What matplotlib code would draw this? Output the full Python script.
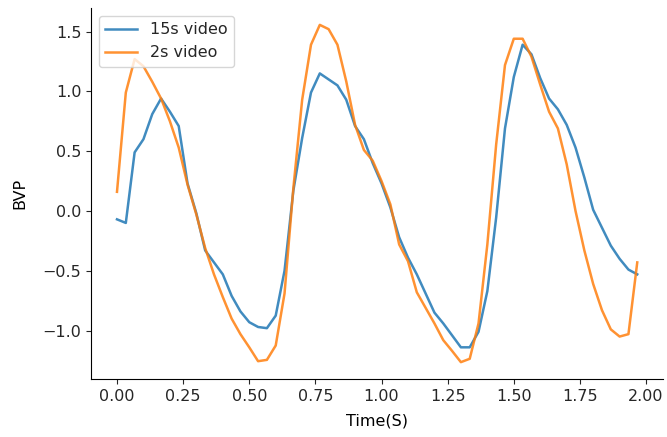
import numpy as np
import matplotlib
matplotlib.use("Agg")
import matplotlib.pyplot as plt

fps = 30
bvp_15s = [-0.07, -0.10, 0.49, 0.60, 0.81, 0.94, 0.83, 0.71, 0.23, -0.02,
           -0.33, -0.43, -0.53, -0.71, -0.84, -0.93, -0.97, -0.98, -0.875, -0.50,
           0.17, 0.61, 0.99, 1.15, 1.10, 1.05, 0.93, 0.71, 0.60, 0.40,
           0.23, 0.03, -0.22, -0.39, -0.53, -0.69, -0.85, -0.94, -1.04, -1.14,
           -1.14, -1.01, -0.67, -0.055, 0.69, 1.12, 1.39, 1.31, 1.11, 0.94,
           0.85, 0.72, 0.53, 0.28, 0.01, -0.14, -0.29, -0.40, -0.49, -0.53]
bvp_2s = [0.16, 0.99, 1.27, 1.21, 1.08, 0.94, 0.75, 0.53, 0.22, -0.03,
          -0.31, -0.53, -0.72, -0.90, -1.03, -1.14, -1.256, -1.245, -1.125, -0.69,
          0.19, 0.93, 1.39, 1.556, 1.52, 1.39, 1.083, 0.72, 0.51, 0.42,
          0.25, 0.056, -0.28, -0.42, -0.68, -0.81, -0.94, -1.08, -1.17, -1.264,
          -1.236, -0.94, -0.28, 0.556, 1.22, 1.44, 1.44, 1.29, 1.056, 0.83,
          0.69, 0.39, 0.0, -0.33, -0.61, -0.83, -0.99, -1.05, -1.03, -0.43]
labels = ["15s video", "2s video"]

t = np.arange(len(bvp_15s)) / fps

plt.rcParams['font.size'] = 11.5
plt.rcParams['text.color'] = '#262626'
plt.rcParams['xtick.color'] = '#262626'
plt.rcParams['ytick.color'] = '#262626'
fig = plt.figure(figsize=(6.67, 4.37), dpi=100)
ax = fig.add_axes([0.1364, 0.1327, 0.858, 0.849])
ax.plot(t, bvp_15s, color='#1f77b4', lw=1.8, alpha=0.85, label=labels[0])
ax.plot(t, bvp_2s, color='#ff7f0e', lw=1.8, alpha=0.85, label=labels[1])
ax.set_xlabel("Time(S)", labelpad=7)
ax.set_ylabel("BVP", labelpad=11)
ax.set_xticks(np.arange(0, 2.01, 0.25))
ax.set_yticks([-1.0, -0.5, 0.0, 0.5, 1.0, 1.5])
ax.spines['top'].set_visible(False)
ax.spines['right'].set_visible(False)
ax.legend(loc='upper left')
fig.savefig("out.png", dpi=100)
